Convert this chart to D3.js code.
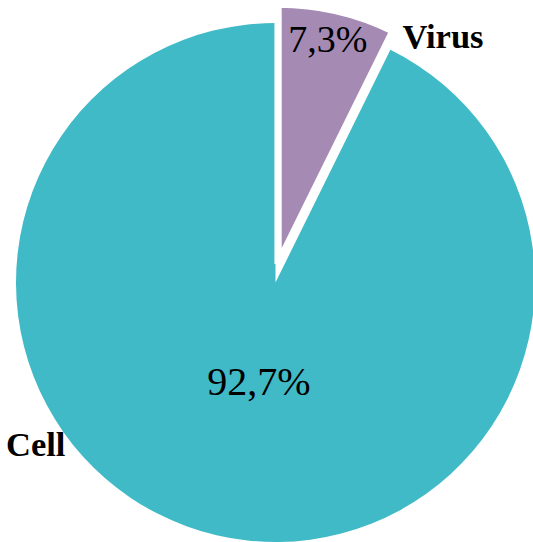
<!DOCTYPE html>
<html>
<head>
<meta charset="utf-8">
<script src="https://cdn.jsdelivr.net/npm/d3@7"></script>
<style>
  html, body { margin: 0; padding: 0; background: #ffffff; }
  svg { display: block; }
  text { font-family: "Liberation Serif", "Times New Roman", serif; fill: #000; }
</style>
</head>
<body>
<svg id="chart" width="533" height="542"></svg>
<script>
// Share of the two groups, in percent
const categories = ["Virus", "Cell"];
const shares = [7.3, 92.7];
const valueLabels = ["7,3%", "92,7%"];
const sliceColors = ["#a58ab4", "#40bac6"];

// Layout
const width = 533, height = 542;
const cx = 275.5, cy = 282.5, radius = 259.5;
const deg = Math.PI / 180;

// Pulled-out slice: distance and direction of the offset, plus a white outline
const explode = [{ dist: 19, angle: 7.7 * deg, outline: 7.3 }, { dist: 0, angle: 0, outline: 0 }];

// Value labels: polar position relative to each slice's own centre
const valuePos = [{ angle: 12.5 * deg, r: 0.885 }, { angle: 189.5 * deg, r: 0.385 }];
const valueFont = [38, 40];

// Category labels: polar position relative to the pie centre
const namePos = [
  { angle: 27.24 * deg, r: radius + 17.7, anchor: "start" },
  { angle: 232.4 * deg, r: radius + 5.7, anchor: "end" }
];
const nameFont = 34.5;

const svg = d3.select("#chart");
const root = svg.append("g").attr("transform", `translate(${cx},${cy})`);

const pie = d3.pie().sort(null).value(d => d.value).startAngle(0).endAngle(2 * Math.PI);
const arcs = pie(categories.map((c, i) => ({ name: c, value: shares[i], i })));
const arc = d3.arc().innerRadius(0).outerRadius(radius);

const polar = (a, r) => [r * Math.sin(a), -r * Math.cos(a)];

// Draw the large slice first so the pulled-out slice and its outline sit on top
const order = arcs.slice().sort((a, b) => b.data.value - a.data.value);

const slices = root.selectAll("g.slice")
  .data(order)
  .join("g")
  .attr("class", "slice")
  .attr("transform", d => {
    const e = explode[d.data.i];
    const [x, y] = polar(e.angle, e.dist);
    return `translate(${x},${y})`;
  });

slices.append("path")
  .attr("d", arc)
  .attr("fill", d => sliceColors[d.data.i])
  .attr("stroke", d => explode[d.data.i].outline > 0 ? "#ffffff" : "none")
  .attr("stroke-width", d => explode[d.data.i].outline)
  .attr("stroke-linejoin", "miter");

slices.append("text")
  .attr("text-anchor", "middle")
  .attr("dy", "0.34em")
  .attr("font-size", d => valueFont[d.data.i])
  .attr("transform", d => {
    const p = valuePos[d.data.i];
    const [x, y] = polar(p.angle, p.r * radius);
    return `translate(${x},${y})`;
  })
  .text(d => valueLabels[d.data.i]);

root.selectAll("text.name")
  .data(arcs)
  .join("text")
  .attr("class", "name")
  .attr("font-weight", "bold")
  .attr("font-size", nameFont)
  .attr("dy", "0.35em")
  .attr("text-anchor", d => namePos[d.data.i].anchor)
  .attr("transform", d => {
    const p = namePos[d.data.i];
    const [x, y] = polar(p.angle, p.r);
    return `translate(${x},${y})`;
  })
  .text(d => d.data.name);
</script>
</body>
</html>
